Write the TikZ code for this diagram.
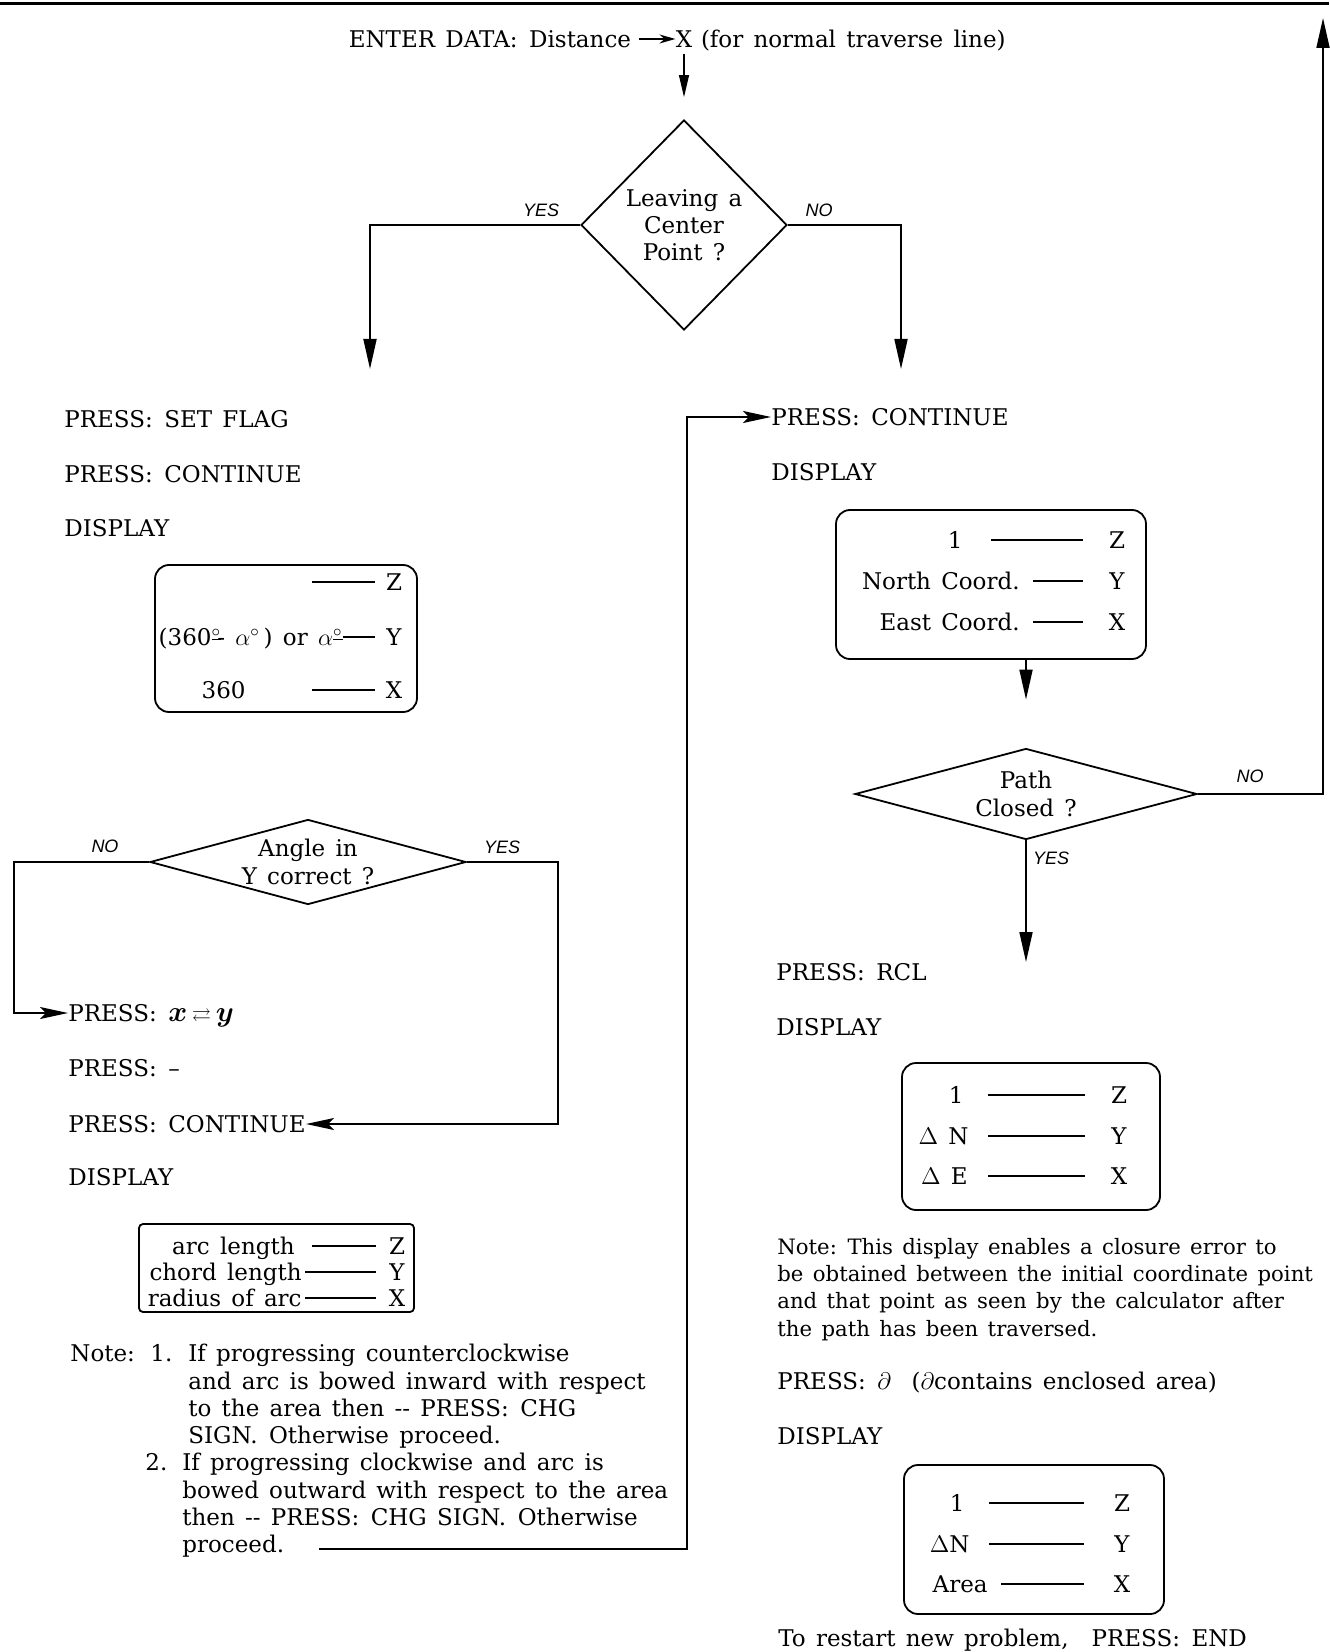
\documentclass[tikz,border=0pt]{standalone}
\usepackage{amsmath, amssymb}
\usepackage{fontspec}
\setmainfont{DejaVu Serif}[WordSpace=1.4]
\setsansfont{Liberation Sans}
\usepackage{tikz}
\usetikzlibrary{shapes.geometric,arrows.meta,positioning}

\newcommand{\kgap}{\hspace{0.5em}}

\tikzset{
  txt/.style={font=\fontsize{11.5}{13.6}\selectfont, inner sep=0pt, text height=8.3pt, text depth=0pt, anchor=west},
  para/.style={font=\fontsize{11.5}{13.6}\selectfont, inner sep=0pt, align=left, anchor=north west},
  qtxt/.style={font=\fontsize{11.5}{13.6}\selectfont, inner sep=0pt, align=center},
  yesno/.style={font=\fontsize{9}{10}\selectfont\sffamily\itshape, inner sep=0pt},
  decision/.style={draw, diamond, line width=0.9pt, inner sep=0pt},
  dispbox/.style={draw, line width=0.9pt, rounded corners=7pt, inner sep=0pt},
  wire/.style={line width=0.9pt},
  flow/.style={line width=0.9pt, -{Triangle[length=15pt,width=6.5pt]}},
  feed/.style={line width=0.9pt, -{Stealth[length=14pt,width=6pt,inset=3pt]}},
}

\begin{document}
\begin{tikzpicture}[x=0.5pt,y=-0.5pt]
\useasboundingbox (0,0) rectangle (1329,1652);
\draw[line width=1.5pt] (0,4) -- (1329,4);

% entry line
\node[txt, anchor=center] (xkey) at (684,39) {X};
\node[txt, right=4pt of xkey] (xnote) {(for normal traverse line)};
\node[txt, left=22pt of xkey] (enter) {ENTER DATA:\kgap Distance};
\draw[line width=0.8pt, -{Stealth[length=8pt,width=4.5pt]}, shorten <=4pt] (enter) -- (xkey);

% first question
\node[decision, minimum width=103pt, minimum height=105pt,
  label={[qtxt]center:{Leaving a\\Center\\Point ?}}] (lcp) at (684,225) {};
\draw[line width=0.6pt, -{Triangle[length=11pt,width=5pt]}, shorten <=3pt, shorten >=11pt] (xkey) -- (lcp);
\node[yesno] (lcpyeslbl) at (541,210) {YES};
\node[yesno] (lcpnolbl) at (819,210) {NO};
\coordinate (lcpyes) at (370,369);
\coordinate (lcpno) at (901,369);
\draw[flow] (lcp.west) -| (lcpyes);
\draw[flow] (lcp.east) -| (lcpno);

% center point branch
\node[txt] (setflag) at (64,419) {PRESS:\kgap SET FLAG};
\node[txt] (cont1) at (64,474) {PRESS:\kgap CONTINUE};
\node[txt] (disp1) at (64,528) {DISPLAY};
\node[dispbox, minimum width=131pt, minimum height=73.5pt] (box1) at (286,638.5) {};
\foreach \y/\lx/\lab/\dx/\reg [count=\i] in {582/312/{}/312/Z, 637/343/{(360$^{\underline{\circ}}$\!- $\alpha^{\circ}$\,) or $\alpha^{\underline{\circ}}$}/343/Y, 690/246/360/312/X}{
  \node[txt, anchor=east] (ba\i) at (\lx,\y) {\lab};
  \draw[wire] (\dx,\y) -- (375,\y);
  \node[txt, anchor=center] (ra\i) at (394,\y) {\reg};
}

\node[decision, minimum width=158pt, minimum height=42.5pt,
  label={[qtxt]center:{Angle in\\Y correct ?}}] (aiy) at (308,862) {};
\node[yesno] (aiynolbl) at (105,846) {NO};
\node[yesno] (aiyyeslbl) at (502,847) {YES};

\node[txt] (xy) at (68,1013) {PRESS:\kgap {\fontsize{13.5}{14}\selectfont$\boldsymbol{x}\,{\scriptstyle\rightleftarrows}\,\boldsymbol{y}$}};
\node[txt] (minus) at (68,1068) {PRESS:\kgap --};
\node[txt] (cont2) at (68,1124) {PRESS:\kgap CONTINUE};
\node[txt] (disp2) at (68,1177) {DISPLAY};
\coordinate (aiyno) at (14,1013);
\coordinate (aiyyes) at (558,1124);
\draw[feed] (aiy.west) -| (aiyno) -- (xy.west);
\draw[feed] (aiy.east) -| (aiyyes) -- (cont2.east);

\node[dispbox, rounded corners=2pt, minimum width=137.5pt, minimum height=44pt] (box2) at (276.5,1268) {};
\foreach \y/\lx/\lab/\dx/\reg [count=\i] in {1246/295/arc length/312/Z, 1272/302/chord length/305/Y, 1298/302/radius of arc/305/X}{
  \node[txt, anchor=east] (bb\i) at (\lx,\y) {\lab};
  \draw[wire] (\dx,\y) -- (376,\y);
  \node[txt, anchor=center] (rb\i) at (397,\y) {\reg};
}

\node[txt] (note1) at (70,1353) {Note:};
\node[txt] (n1num) at (150,1353) {1.};
\node[para] (n1txt) at (188,1344) {If progressing counterclockwise\\and arc is bowed inward with respect\\to the area then -{}- PRESS:\kgap CHG\\SIGN.\kgap Otherwise proceed.};
\node[txt] (n2num) at (145,1462) {2.};
\node[para] (n2txt) at (182,1453) {If progressing clockwise and arc is\\bowed outward with respect to the area\\then -{}- PRESS:\kgap CHG SIGN.\kgap Otherwise\\proceed.};
\coordinate (loopstart) at (319,1549);
\coordinate (loopbend) at (687,1549);

% normal traverse branch
\node[txt] (cont3) at (771,417) {PRESS:\kgap CONTINUE};
\node[txt] (disp3) at (771,472) {DISPLAY};
\draw[feed] (loopstart) -- (loopbend) |- (cont3.west);
\node[dispbox, minimum width=155pt, minimum height=74.5pt] (box3) at (991,584.5) {};
\foreach \y/\lx/\lab/\dx/\reg [count=\i] in {540/963/1/991/Z, 581/1020/North Coord./1033/Y, 622/1020/East Coord./1033/X}{
  \node[txt, anchor=east] (bc\i) at (\lx,\y) {\lab};
  \draw[wire] (\dx,\y) -- (1083,\y);
  \node[txt, anchor=center] (rc\i) at (1117,\y) {\reg};
}

\node[decision, minimum width=171pt, minimum height=45.5pt,
  label={[qtxt]center:{Path\\Closed ?}}] (pc) at (1026,794) {};
\draw[flow, shorten >=24pt] (pc.north |- box3.south) -- (pc.north);
\node[yesno] (pcnolbl) at (1250,776) {NO};
\node[yesno] (pcyeslbl) at (1051,858) {YES};
\coordinate (backtop) at (1323,18);
\coordinate (pcyes) at (1026,962);
\draw[flow] (pc.east) -| (backtop);
\draw[flow] (pc.south) -- (pcyes);

\node[txt] (rcl) at (776,972) {PRESS:\kgap RCL};
\node[txt] (disp4) at (776,1027) {DISPLAY};
\node[dispbox, minimum width=129pt, minimum height=73.5pt] (box4) at (1031,1136.5) {};
\foreach \y/\lx/\lab/\dx/\reg [count=\i] in {1095/964/1/988/Z, 1136/969/$\Delta$ N/988/Y, 1176/968/$\Delta$ E/988/X}{
  \node[txt, anchor=east] (bd\i) at (\lx,\y) {\lab};
  \draw[wire] (\dx,\y) -- (1085,\y);
  \node[txt, anchor=center] (rd\i) at (1119,\y) {\reg};
}

\node[para, font=\fontsize{10.6}{13.6}\selectfont] (note2) at (777,1238) {Note:\kgap This display enables a closure error to\\be obtained between the initial coordinate point\\and that point as seen by the calculator after\\the path has been traversed.};
\node[txt] (area) at (777,1381) {PRESS:\kgap $\partial$\ \ ($\partial$contains enclosed area)};
\node[txt] (disp5) at (777,1436) {DISPLAY};
\node[dispbox, minimum width=130pt, minimum height=74.5pt] (box5) at (1034,1539.5) {};
\foreach \y/\lx/\lab/\dx/\reg [count=\i] in {1503/965/1/989/Z, 1544/970/$\Delta$N/989/Y, 1584/988/Area/1001/X}{
  \node[txt, anchor=east] (be\i) at (\lx,\y) {\lab};
  \draw[wire] (\dx,\y) -- (1084,\y);
  \node[txt, anchor=center] (re\i) at (1122,\y) {\reg};
}
\node[txt] (restart) at (778,1638) {To restart new problem,\quad PRESS:\kgap END};
\end{tikzpicture}
\end{document}
